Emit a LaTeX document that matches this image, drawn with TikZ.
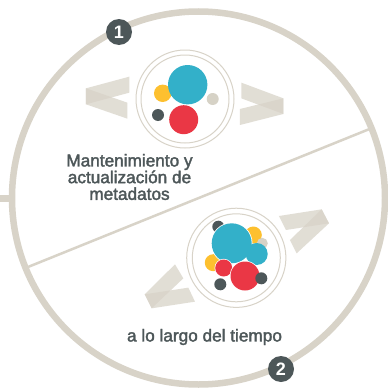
\documentclass[tikz,border=0pt]{standalone}
\usepackage{fontspec}
\setmainfont{Liberation Sans}
\newfontfamily\capfont{Liberation Sans}
\newfontfamily\badgefont{Liberation Sans Bold}
\newcommand{\heavyon}{\special{pdf:code 2 Tr 0.35 w 0.302 0.341 0.349 RG}}
\newcommand{\heavyoff}{\special{pdf:code 0 Tr}}
\definecolor{band}{HTML}{D8D3C8}
\definecolor{slate}{HTML}{4D5759}
\definecolor{teal}{HTML}{33B0C9}
\definecolor{sun}{HTML}{FDC02F}
\definecolor{rose}{HTML}{EA3745}
\definecolor{pebble}{HTML}{D6D2C6}
\tikzset{
  ring/.style={draw=band,line width=6.5pt},
  thin ring/.style={draw=band,line width=1pt},
  fold/.style={fill=band,opacity=0.75},
  badge/.style={circle,fill=slate,text=white,minimum size=26pt,inner sep=0pt,font=\badgefont\fontsize{18}{18}\selectfont},
  caption/.style={text=slate,align=center,font=\capfont\fontsize{17.2}{16.7}\selectfont},
}
\begin{document}
\begin{tikzpicture}[x=1pt,y=-1pt]
\useasboundingbox (0,0) rectangle (388,388);
\fill[white] (0,0) rectangle (388,388);
% main ring, divider, stub
\draw[ring] (198.5,198) circle[radius=186.5];
\draw[band,line width=6.5pt] (0,198.5) -- (11,198.5);
\draw[band,line width=2.5pt] (28,267) -- (372,128);
% top medallion
\draw[thin ring] (185,99) circle[radius=49];
\draw[thin ring] (185,99) circle[radius=44];
\fill[sun] (162.7,93.3) circle[radius=8.7];
\fill[teal] (187.7,84.7) circle[radius=19.7];
\fill[pebble] (212.7,99) circle[radius=6];
\fill[slate] (158,115) circle[radius=6];
\fill[rose] (183.7,119.7) circle[radius=14.5];
% top chevrons
\begin{scope}[shift={(70,10)},x=0.3333pt,y=-0.3333pt]
\fill[fold] (178,200) -- (178,248) -- (48,283) -- (48,235) -- cycle;
\fill[fold] (48,235) -- (172,278) -- (172,326) -- (48,283) -- cycle;
\fill[fold] (514,218) -- (640,265) -- (640,312) -- (514,265) -- cycle;
\fill[fold] (640,265) -- (640,312) -- (510,345) -- (510,297) -- cycle;
\end{scope}
% bottom medallion
\draw[thin ring] (236.3,257.8) circle[radius=49.6];
\draw[thin ring] (236.3,257.8) circle[radius=44];
\fill[slate] (218.3,226.7) circle[radius=6];
\fill[sun] (253.3,235) circle[radius=8.5];
\fill[pebble] (262.3,243.3) circle[radius=5.5];
\fill[sun] (213.3,262.7) circle[radius=8.5];
\fill[white] (231.7,243.3) circle[radius=20.8];
\fill[teal] (231.7,243.3) circle[radius=20];
\fill[teal] (256.7,254) circle[radius=11];
\fill[white] (223.7,268) circle[radius=9.2];
\fill[rose] (223.7,268) circle[radius=8.5];
\fill[white] (245,276) circle[radius=15.2];
\fill[rose] (245,276) circle[radius=14.5];
\fill[slate] (220.3,284.3) circle[radius=6];
\fill[slate] (261.3,278.3) circle[radius=6];
% bottom chevrons
\begin{scope}[shift={(130,190)},x=0.3333pt,y=-0.3333pt]
\fill[fold] (447,78) -- (575,58) -- (597,100) -- (468,120) -- cycle;
\fill[fold] (575,58) -- (597,100) -- (500,190) -- (480,150) -- cycle;
\fill[fold] (135,223) -- (160,265) -- (65,355) -- (44,313) -- cycle;
\fill[fold] (44,313) -- (175,293) -- (195,335) -- (65,355) -- cycle;
\end{scope}
% badges and captions
\node[badge] (one) at (119,32) {1};
\node[badge] (two) at (281,369) {2};
\node[caption] (top caption) at (129.5,177) {\heavyon Mantenimiento y\\actualización de\\metadatos\heavyoff};
\node[caption] (bottom caption) at (204.5,337) {\heavyon a lo largo del tiempo\heavyoff};
\end{tikzpicture}
\end{document}
